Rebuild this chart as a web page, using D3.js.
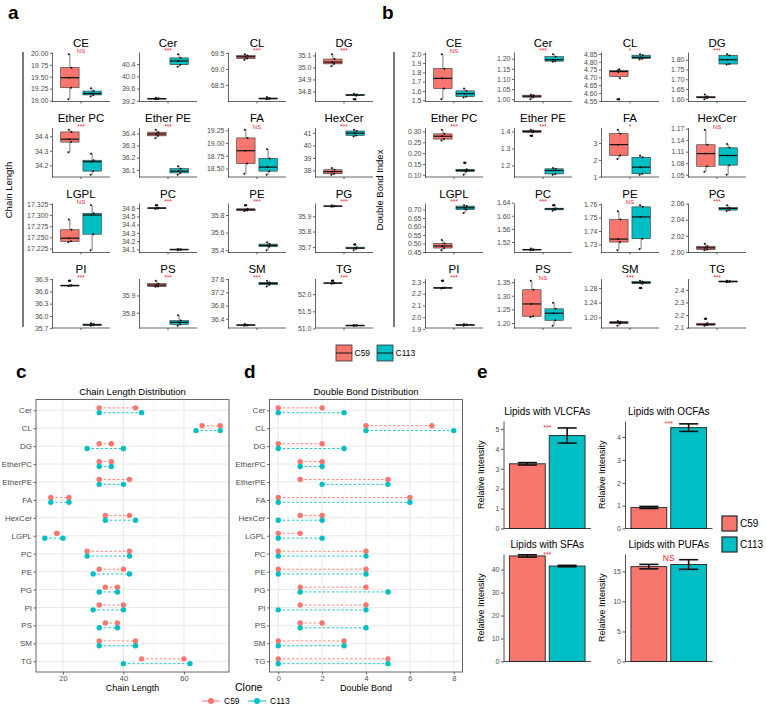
<!DOCTYPE html>
<meta charset="utf-8" />
<style>
  body { margin: 0; background: #fff; }
  svg { display: block; font-family: "Liberation Sans", Arial, sans-serif; }
  .tick text { fill: #4d4d4d; }
  .panel-letter { font-size: 19px; font-weight: bold; }
</style>
<body>
  <script src="https://d3js.org/d3.v7.min.js"></script>
  <script>
    // ---------- data ----------
    var C59 = '#F8766D', C113 = '#00BFC4', SIGRED = '#E8262B';

    // panels a / b : one facet per lipid class
    var lipidClasses = ['CE', 'Cer', 'CL', 'DG', 'Ether PC', 'Ether PE', 'FA', 'HexCer',
      'LGPL', 'PC', 'PE', 'PG', 'PI', 'PS', 'SM', 'TG'];

    var sigA = ['NS', '***', '***', '***', '***', '***', 'NS', '***', 'NS', '***', '***', '***', '***', '***', '***', '***'];
    var sigB = ['NS', '***', '*', '***', '***', '***', '*', 'NS', '***', '***', 'NS', '***', '***', 'NS', '***', '***'];

    var ticksA = [
      ['19.00', '19.25', '19.50', '19.75', '20.00'], ['39.2', '39.6', '40.0', '40.4'],
      ['68.5', '69.0', '69.5'], ['34.8', '34.9', '35.0', '35.1'],
      ['34.2', '34.3', '34.4'], ['36.1', '36.2', '36.3', '36.4'],
      ['18.50', '18.75', '19.00', '19.25'], ['38', '39', '40', '41'],
      ['17.225', '17.250', '17.275', '17.300', '17.325'], ['34.1', '34.2', '34.3', '34.4', '34.5', '34.6'],
      ['35.4', '35.6', '35.8'], ['35.7', '35.8', '35.9'],
      ['35.7', '36.0', '36.3', '36.6', '36.9'], ['35.8', '35.9'],
      ['36.4', '36.8', '37.2', '37.6'], ['51.0', '51.5', '52.0']
    ];
    var chainC59 = [
      [19.03, 19.27, 19.48, 19.69, 19.97], [39.25, 39.26, 39.27, 39.28, 39.30],
      [69.29, 69.33, 69.38, 69.42, 69.46], [35.01, 35.03, 35.045, 35.07, 35.11],
      [34.29, 34.36, 34.38, 34.43, 34.445], [36.36, 36.38, 36.395, 36.41, 36.43],
      [18.40, 18.60, 18.85, 19.10, 19.26], [37.65, 37.73, 37.9, 38.05, 38.2],
      [17.239, 17.241, 17.248, 17.267, 17.29], [34.59, 34.595, 34.60, 34.605, 34.635],
      [35.845, 35.85, 35.86, 35.87, 35.91], [35.962, 35.964, 35.966, 35.968, 35.972],
      [36.73, 36.735, 36.745, 36.75, 36.86], [35.95, 35.952, 35.96, 35.968, 35.985],
      [36.19, 36.20, 36.21, 36.22, 36.24], [52.30, 52.31, 52.32, 52.33, 52.39]
    ];
    var chainC113 = [
      [19.09, 19.12, 19.15, 19.20, 19.26], [40.31, 40.38, 40.5, 40.6, 40.72],
      [68.05, 68.06, 68.07, 68.09, 68.12], [34.735, 34.765, 34.77, 34.775, 34.78],
      [34.135, 34.16, 34.225, 34.235, 34.28], [36.06, 36.075, 36.09, 36.11, 36.13],
      [18.38, 18.45, 18.53, 18.70, 18.88], [40.72, 40.8, 40.98, 41.15, 41.25],
      [17.221, 17.257, 17.30, 17.304, 17.322], [34.09, 34.095, 34.10, 34.102, 34.105],
      [35.40, 35.44, 35.455, 35.47, 35.49], [35.678, 35.688, 35.692, 35.698, 35.716],
      [35.76, 35.77, 35.785, 35.80, 35.82], [35.725, 35.733, 35.745, 35.755, 35.785],
      [37.38, 37.43, 37.47, 37.50, 37.55], [51.08, 51.085, 51.09, 51.095, 51.10]
    ];

    var ticksB = [
      ['1.5', '1.6', '1.7', '1.8', '1.9', '2.0'], ['1.00', '1.05', '1.10', '1.15', '1.20'],
      ['4.55', '4.60', '4.65', '4.70', '4.75', '4.80', '4.85'], ['1.60', '1.65', '1.70', '1.75', '1.80'],
      ['0.10', '0.15', '0.20', '0.25', '0.30'], ['1.2', '1.3', '1.4'],
      ['1', '2', '3'], ['1.05', '1.08', '1.11', '1.14', '1.17'],
      ['0.45', '0.50', '0.55', '0.60', '0.65', '0.70'], ['1.52', '1.56', '1.60', '1.64'],
      ['1.73', '1.74', '1.75', '1.76'], ['2.00', '2.02', '2.04', '2.06'],
      ['1.9', '2.0', '2.1', '2.2', '2.3'], ['1.20', '1.25', '1.30', '1.35'],
      ['1.20', '1.24', '1.28'], ['2.1', '2.2', '2.3', '2.4']
    ];
    var dbiC59 = [
      [1.51, 1.625, 1.735, 1.84, 1.995], [1.00, 1.01, 1.015, 1.02, 1.022],
      [4.56, 4.695, 4.735, 4.74, 4.745, 4.752], [1.598, 1.605, 1.608, 1.612, 1.622],
      [0.258, 0.265, 0.278, 0.289, 0.308], [1.375, 1.395, 1.40, 1.405, 1.41],
      [2.05, 2.26, 2.90, 3.55, 3.78], [1.058, 1.072, 1.105, 1.128, 1.167],
      [0.46, 0.473, 0.485, 0.50, 0.52], [1.495, 1.496, 1.497, 1.498, 1.500],
      [1.7257, 1.7318, 1.734, 1.7485, 1.7547], [2.002, 2.003, 2.005, 2.007, 2.010],
      [2.245, 2.248, 2.25, 2.252, 2.31], [1.222, 1.225, 1.27, 1.322, 1.355],
      [1.177, 1.183, 1.186, 1.188, 1.19], [2.115, 2.12, 2.125, 2.135, 2.17]
    ];
    var dbiC113 = [
      [1.53, 1.54, 1.57, 1.60, 1.625], [1.185, 1.188, 1.195, 1.21, 1.222],
      [4.815, 4.82, 4.828, 4.842, 4.848], [1.775, 1.778, 1.80, 1.822, 1.828],
      [0.10, 0.115, 0.12, 0.125, 0.155], [1.145, 1.15, 1.17, 1.18, 1.185],
      [1.12, 1.18, 1.57, 2.15, 2.25], [1.05, 1.075, 1.10, 1.12, 1.13],
      [0.68, 0.70, 0.71, 0.72, 0.725], [1.615, 1.618, 1.621, 1.623, 1.632],
      [1.7267, 1.7343, 1.7505, 1.758, 1.7592], [2.051, 2.052, 2.054, 2.055, 2.058],
      [1.928, 1.932, 1.935, 1.938, 1.942], [1.19, 1.21, 1.236, 1.252, 1.274],
      [1.28, 1.292, 1.295, 1.298, 1.30], [2.46, 2.462, 2.466, 2.47, 2.472]
    ];

    // panels c / d : min and max per class
    var distClasses = ['Cer', 'CL', 'DG', 'EtherPC', 'EtherPE', 'FA', 'HexCer', 'LGPL',
      'PC', 'PE', 'PG', 'PI', 'PS', 'SM', 'TG'];
    var lenRangeC59 = [[32, 44], [66, 72], [32, 36], [32, 36], [32, 42], [16, 22], [34, 42], [18, 18],
      [28, 42], [32, 40], [34, 38], [32, 40], [34, 38], [32, 44], [46, 60]];
    var lenRangeC113 = [[32, 46], [64, 72], [28, 40], [32, 36], [32, 40], [16, 22], [34, 44], [14, 20],
      [28, 42], [30, 42], [32, 38], [30, 40], [32, 38], [32, 44], [40, 62]];
    var bondRangeC59 = [[0, 2], [4, 7], [0, 2], [1, 2], [1, 5], [0, 6], [1, 2], [0, 1],
      [0, 4], [0, 4], [1, 4], [1, 4], [1, 2], [0, 3], [0, 5]];
    var bondRangeC113 = [[0, 3], [4, 8], [0, 3], [1, 2], [2, 5], [0, 6], [0, 2], [0, 2],
      [0, 4], [0, 4], [1, 5], [0, 4], [1, 4], [0, 3], [0, 5]];
    var lenTicks = [20, 40, 60];
    var bondTicks = [0, 2, 4, 6, 8];

    // panel e : mean +- error
    var barTitles = ['Lipids with VLCFAs', 'Lipids with OCFAs', 'Lipids with SFAs', 'Lipids with PUFAs'];
    var barC59 = [3.25, 0.92, 45.96, 15.8];
    var barC113 = [4.67, 4.41, 41.55, 16.15];
    var errC59 = [0.06, 0.045, 0.5, 0.37];
    var errC113 = [0.38, 0.165, 0.3, 0.8];
    var barTicks = [[0, 1, 2, 3, 4, 5], [0, 1, 2, 3, 4], [0, 10, 20, 30, 40], [0, 5, 10, 15]];
    var barLimit = [5.4, 4.7, 46.8, 17.9];
    var barSig = ['***', '***', '***', 'NS'];

    // ---------- page ----------
    var svg = d3.select('body').append('svg').attr('width', 766).attr('height', 710);

    function letter(t, x, y) {
      svg.append('text').attr('class', 'panel-letter').attr('x', x).attr('y', y).text(t);
    }
    letter('a', 8, 19);
    letter('b', 382, 19);
    letter('c', 16, 378);
    letter('d', 244, 378);
    letter('e', 477, 378);

    // box statistics, same rules as geom_boxplot
    function boxStats(vals) {
      var v = vals.slice().sort(d3.ascending);
      var q1 = d3.quantile(v, 0.25), med = d3.quantile(v, 0.5), q3 = d3.quantile(v, 0.75);
      var f = 1.5 * (q3 - q1);
      var inside = v.filter(function(d) { return d >= q1 - f && d <= q3 + f; });
      return {
        q1: q1, med: med, q3: q3,
        lo: d3.min(inside), hi: d3.max(inside),
        out: v.filter(function(d) { return d < q1 - f || d > q3 + f; }),
        all: v
      };
    }

    var facetW = 58, facetH = 49.5;
    var rowTops = [52, 127.5, 203, 278.5];
    var jit = [-1.5, 1.2, -0.6, 1.6, -1.1, 0.5];

    function drawFacets(colCenters, ticks, groupA, groupB, sigs) {
      lipidClasses.forEach(function(name, i) {
        var left = colCenters[i % 4] - facetW / 2, top = rowTops[Math.floor(i / 4)];
        var g = svg.append('g').attr('transform', 'translate(' + left + ',' + top + ')');

        var ext = d3.extent(groupA[i].concat(groupB[i]));
        var pad = (ext[1] - ext[0]) * 0.05;
        var y = d3.scaleLinear().domain([ext[0] - pad, ext[1] + pad]).range([facetH, 0]);
        var x = d3.scaleLinear().domain([0.4, 1.6]).range([0, facetW]);

        [[groupA[i], C59, 0.77], [groupB[i], C113, 1.23]].forEach(function(grp) {
          var s = boxStats(grp[0]), cx = x(grp[2]);
          var bw = x(0.4 + 0.38) - x(0.4);
          g.append('line').attr('x1', cx).attr('x2', cx).attr('y1', y(s.hi)).attr('y2', y(s.q3))
            .attr('stroke', '#222').attr('stroke-width', 0.6);
          g.append('line').attr('x1', cx).attr('x2', cx).attr('y1', y(s.q1)).attr('y2', y(s.lo))
            .attr('stroke', '#222').attr('stroke-width', 0.6);
          g.append('rect').attr('x', cx - bw / 2).attr('width', bw)
            .attr('y', y(s.q3)).attr('height', Math.max(0.8, y(s.q1) - y(s.q3)))
            .attr('fill', grp[1]).attr('stroke', '#333').attr('stroke-width', 0.6);
          g.append('line').attr('x1', cx - bw / 2).attr('x2', cx + bw / 2)
            .attr('y1', y(s.med)).attr('y2', y(s.med))
            .attr('stroke', '#111').attr('stroke-width', 1.2);
          g.selectAll(null).data(s.out).enter().append('circle')
            .attr('cx', cx).attr('cy', function(d) { return y(d); }).attr('r', 1.3).attr('fill', '#111');
          g.selectAll(null).data(s.all).enter().append('circle')
            .attr('cx', function(d, j) { return cx + jit[j % jit.length]; })
            .attr('cy', function(d) { return y(d); }).attr('r', 1).attr('fill', '#111');
        });

        var ay = g.append('g').call(d3.axisLeft(y)
          .tickValues(ticks[i].map(Number))
          .tickFormat(function(d, j) { return ticks[i][j]; })
          .tickSize(2).tickSizeOuter(0).tickPadding(1.5));
        ay.selectAll('text').style('font-size', '7px');
        ay.selectAll('line, path').attr('stroke', '#222').attr('stroke-width', 0.7);

        g.append('line').attr('x1', 0).attr('x2', facetW).attr('y1', facetH).attr('y2', facetH)
          .attr('stroke', '#222').attr('stroke-width', 0.7);
        g.append('line').attr('x1', x(1)).attr('x2', x(1)).attr('y1', facetH).attr('y2', facetH + 2)
          .attr('stroke', '#222').attr('stroke-width', 0.7);

        g.append('text').attr('x', facetW / 2).attr('y', -5.5).attr('text-anchor', 'middle')
          .style('font-size', '11.5px').text(name);
        g.append('text').attr('x', facetW / 2).attr('y', 1).attr('text-anchor', 'middle')
          .style('font-size', sigs[i] === 'NS' ? '6px' : '6.5px').attr('fill', SIGRED).text(sigs[i]);
      });
    }

    drawFacets([81, 168, 257, 344], ticksA, chainC59, chainC113, sigA);
    drawFacets([454, 543, 630, 717], ticksB, dbiC59, dbiC113, sigB);

    // shared y titles with the bracket line
    function sideTitle(txt, tx, lx) {
      svg.append('line').attr('x1', lx).attr('x2', lx).attr('y1', 52).attr('y2', 327)
        .attr('stroke', '#222').attr('stroke-width', 1.2);
      svg.append('text').attr('transform', 'translate(' + tx + ',190) rotate(-90)')
        .attr('text-anchor', 'middle').style('font-size', '9.5px').text(txt);
    }
    sideTitle('Chain Length', 12, 23);
    sideTitle('Double Bond Index', 383, 394);

    // legend for a / b
    [['C59', C59, 336], ['C113', C113, 377]].forEach(function(k) {
      var g = svg.append('g').attr('transform', 'translate(' + k[2] + ',345)');
      g.append('rect').attr('width', 16).attr('height', 16).attr('fill', k[1])
        .attr('stroke', '#333').attr('stroke-width', 0.8);
      g.append('line').attr('x1', 0).attr('x2', 16).attr('y1', 8).attr('y2', 8)
        .attr('stroke', '#111').attr('stroke-width', 1);
      g.append('text').attr('x', 18.5).attr('y', 11).style('font-size', '8.5px').text(k[0]);
    });

    // ---------- c / d dumbbells ----------
    var distTop = 399.5, distBottom = 672;

    function drawDist(left, right, title, xTitle, ticks, r59, r113) {
      var all = d3.merge(r59.concat(r113));
      var ext = d3.extent(all), pad = (ext[1] - ext[0]) * 0.05;
      var x = d3.scaleLinear().domain([ext[0] - pad, ext[1] + pad]).range([left, right]);
      var y = d3.scalePoint().domain(distClasses).range([distTop, distBottom]).padding(0.6);
      var step = ticks[1] - ticks[0];
      var minor = d3.range(ticks[0] - step / 2, x.domain()[1], step)
        .filter(function(d) { return d > x.domain()[0]; });

      var g = svg.append('g');
      g.selectAll(null).data(minor).enter().append('line')
        .attr('x1', x).attr('x2', x).attr('y1', distTop).attr('y2', distBottom)
        .attr('stroke', '#f0f0f0').attr('stroke-width', 0.5);
      g.selectAll(null).data(ticks).enter().append('line')
        .attr('x1', x).attr('x2', x).attr('y1', distTop).attr('y2', distBottom)
        .attr('stroke', '#e6e6e6').attr('stroke-width', 0.9);
      g.selectAll(null).data(distClasses).enter().append('line')
        .attr('x1', left).attr('x2', right).attr('y1', y).attr('y2', y)
        .attr('stroke', '#e6e6e6').attr('stroke-width', 0.9);

      [[r59, C59, -2.4], [r113, C113, 2.4]].forEach(function(s) {
        var gg = g.selectAll(null).data(distClasses).enter().append('g')
          .attr('transform', function(d) { return 'translate(0,' + (y(d) + s[2]) + ')'; });
        gg.append('line')
          .attr('x1', function(d, i) { return x(s[0][i][0]); })
          .attr('x2', function(d, i) { return x(s[0][i][1]); })
          .attr('stroke', s[1]).attr('stroke-width', 0.9).attr('stroke-dasharray', '2.5,2');
        gg.selectAll('circle').data(function(d, i) { return s[0][i]; }).enter().append('circle')
          .attr('cx', function(v) { return x(v); }).attr('r', 2.7).attr('fill', s[1]);
      });

      g.append('rect').attr('x', left).attr('y', distTop)
        .attr('width', right - left).attr('height', distBottom - distTop)
        .attr('fill', 'none').attr('stroke', '#666').attr('stroke-width', 1);

      var ay = g.append('g').attr('transform', 'translate(' + left + ',0)')
        .call(d3.axisLeft(y).tickSize(2.5).tickPadding(1.5));
      ay.select('.domain').remove();
      ay.selectAll('text').style('font-size', '8px');
      ay.selectAll('line').attr('stroke', '#333').attr('stroke-width', 0.7);

      var ax = g.append('g').attr('transform', 'translate(0,' + distBottom + ')')
        .call(d3.axisBottom(x).tickValues(ticks).tickSize(2.5).tickPadding(1.5));
      ax.select('.domain').remove();
      ax.selectAll('text').style('font-size', '7.5px');
      ax.selectAll('line').attr('stroke', '#333').attr('stroke-width', 0.7);

      g.append('text').attr('x', (left + right) / 2).attr('y', 395).attr('text-anchor', 'middle')
        .style('font-size', '9.5px').text(title);
      g.append('text').attr('x', (left + right) / 2).attr('y', 691).attr('text-anchor', 'middle')
        .style('font-size', '9px').text(xTitle);
    }

    drawDist(36, 229, 'Chain Length Distribution', 'Chain Length', lenTicks, lenRangeC59, lenRangeC113);
    drawDist(269.5, 462.5, 'Double Bond Distribution', 'Double Bond', bondTicks, bondRangeC59, bondRangeC113);

    // clone legend
    svg.append('text').attr('x', 235).attr('y', 691).style('font-size', '10.5px').text('Clone');
    [['C59', C59, 211], ['C113', C113, 257]].forEach(function(k) {
      svg.append('line').attr('x1', k[2] - 9).attr('x2', k[2] + 9).attr('y1', 701).attr('y2', 701)
        .attr('stroke', k[1]).attr('stroke-width', 1);
      svg.append('circle').attr('cx', k[2]).attr('cy', 701).attr('r', 3).attr('fill', k[1]);
      svg.append('text').attr('x', k[2] + 13).attr('y', 704).style('font-size', '8.5px').text(k[0]);
    });

    // ---------- e bars ----------
    var eLeft = [503.5, 625], eTop = [421, 554], eW = 87.5, eH = 107.5;

    barTitles.forEach(function(t, i) {
      var left = eLeft[i % 2], top = eTop[Math.floor(i / 2)];
      var g = svg.append('g').attr('transform', 'translate(' + left + ',' + top + ')');
      var x = d3.scaleLinear().domain([0.4, 2.6]).range([0, eW]);
      var y = d3.scaleLinear().domain([0, barLimit[i]]).range([eH, 0]);

      var bars = [[barC59[i], errC59[i], C59, 1], [barC113[i], errC113[i], C113, 2]];
      bars.forEach(function(b) {
        g.append('rect').attr('x', x(b[3] - 0.45)).attr('width', x(b[3] + 0.45) - x(b[3] - 0.45))
          .attr('y', y(b[0])).attr('height', eH - y(b[0]))
          .attr('fill', b[2]).attr('stroke', '#333').attr('stroke-width', 1);
      });
      bars.forEach(function(b) {
        var lo = y(b[0] - b[1]), hi = y(b[0] + b[1]);
        g.append('line').attr('x1', x(b[3])).attr('x2', x(b[3])).attr('y1', lo).attr('y2', hi)
          .attr('stroke', '#111').attr('stroke-width', 1.6);
        [lo, hi].forEach(function(yy) {
          g.append('line').attr('x1', x(b[3] - 0.24)).attr('x2', x(b[3] + 0.24))
            .attr('y1', yy).attr('y2', yy).attr('stroke', '#111').attr('stroke-width', 1.6);
        });
      });

      var ay = g.append('g').call(d3.axisLeft(y).tickValues(barTicks[i])
        .tickFormat(d3.format('d'))
        .tickSize(2.5).tickSizeOuter(0).tickPadding(1.5));
      ay.selectAll('text').style('font-size', '7px');
      ay.selectAll('line, path').attr('stroke', '#222').attr('stroke-width', 0.8);
      g.append('line').attr('x1', 0).attr('x2', eW).attr('y1', eH).attr('y2', eH)
        .attr('stroke', '#222').attr('stroke-width', 0.8);

      var topErr = d3.max(bars, function(b) { return b[0] + b[1]; });
      var ns = barSig[i] === 'NS';
      g.append('text').attr('x', x(1.5)).attr('y', y(topErr) + (ns ? 1.5 : 2.5))
        .attr('text-anchor', 'middle').attr('fill', SIGRED)
        .style('font-size', ns ? '8.5px' : '7px').text(barSig[i]);

      g.append('text').attr('x', eW / 2).attr('y', -6.5).attr('text-anchor', 'middle')
        .style('font-size', '10px').text(t);
      g.append('text').attr('transform', 'translate(-20,' + eH / 2 + ') rotate(-90)')
        .attr('text-anchor', 'middle').style('font-size', '9px').text('Relative Intensity');
    });

    [['C59', C59, 516], ['C113', C113, 537]].forEach(function(k) {
      svg.append('rect').attr('x', 722).attr('y', k[2]).attr('width', 15).attr('height', 15)
        .attr('fill', k[1]).attr('stroke', '#333').attr('stroke-width', 1.3);
      svg.append('text').attr('x', 740).attr('y', k[2] + 11).style('font-size', '10px').text(k[0]);
    });
  </script>
</body>
